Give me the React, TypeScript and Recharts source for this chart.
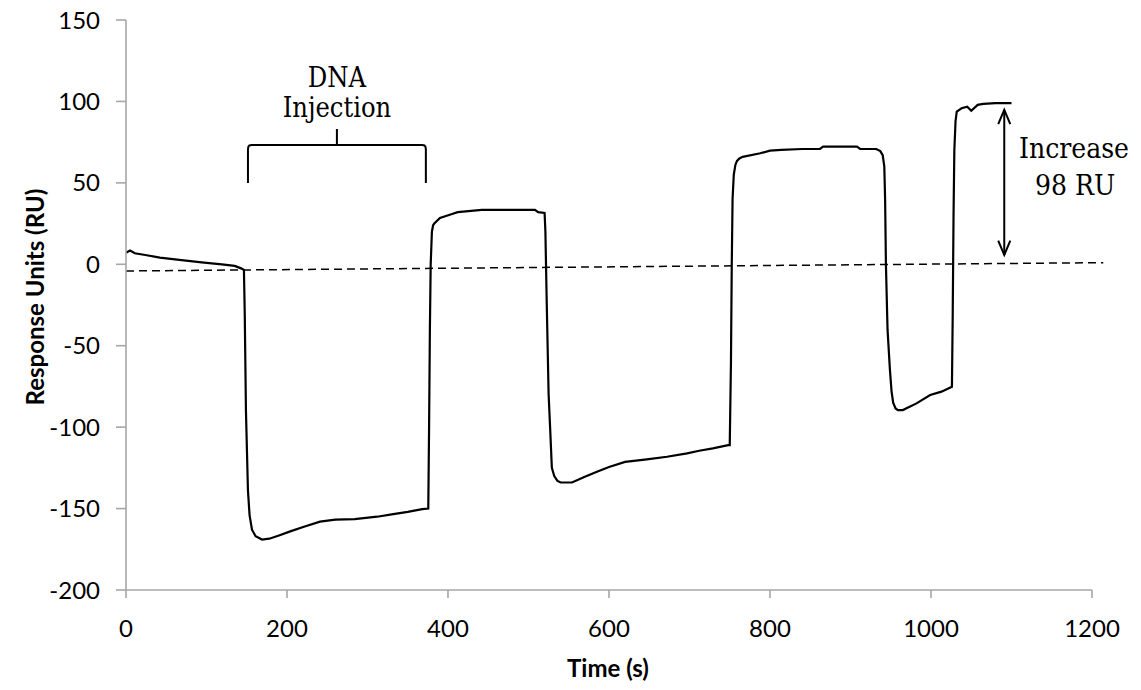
import React from 'react';
import { LineChart, Line, XAxis, YAxis, ReferenceLine } from 'recharts';

const timeS = [0, 5, 11, 24, 42, 69, 94, 119, 135, 143, 146.5, 147.5, 149, 151.5, 153.5, 156.5, 161, 169, 178, 190, 204, 222, 241, 260, 284, 312, 332, 350, 368, 375.5, 376.5, 377.5, 378.5, 380, 381.5, 383, 390, 406, 412, 442, 508, 512, 520, 521, 522.5, 525, 527, 529, 532, 536, 540, 554, 570, 585, 600, 620, 647, 672, 697, 712, 729, 748, 750, 751.5, 752.5, 753.5, 755, 757, 759, 762, 766, 788, 800, 814, 840, 862, 866, 908, 912, 932, 937, 940, 942, 943, 944, 946, 949, 951, 953, 956, 959, 965, 982, 999, 1013, 1026, 1027, 1028, 1029, 1030.5, 1032, 1038, 1045, 1050, 1058, 1065, 1080, 1100];
const responseRU = [7.1, 8.4, 6.8, 5.7, 4.1, 2.6, 1.2, 0.0, -1.0, -2.5, -3.5, -30, -90, -139, -154, -163, -167, -169, -168.5, -166.5, -164, -161, -158, -156.8, -156.5, -155, -153.4, -152, -150.3, -150, -100, -40, 0, 20, 24, 25, 28.5, 31, 32, 33.4, 33.4, 32, 31.5, 20, -20, -80, -102, -125, -130, -133, -134, -134, -130.5, -127.4, -124.5, -121.3, -119.8, -118.2, -116.1, -114.5, -113, -111, -111, -60, 0, 40, 55, 61, 63.5, 65, 66, 68.2, 69.8, 70.2, 70.8, 70.8, 72.2, 72.2, 70.8, 70.8, 69.5, 67, 60, 40, 0, -40, -65, -78, -85, -88.5, -89.5, -89.5, -85.4, -80.3, -78.2, -75.2, -30, 30, 70, 88, 93.7, 95.8, 96.8, 94.3, 97.9, 98.5, 98.9, 98.9];

const baselineT = [0, 1214];
const baselineRU = [-4.1, 1.0];

const bracketT = [151.5, 151.5, 152, 153.3, 156, 262, 262, 262, 368, 370.7, 372, 372.5, 372.5];
const bracketRU = [49.9, 70.5, 72.2, 73.0, 73.3, 73.3, 83, 73.3, 73.3, 73.0, 72.2, 70.5, 49.9];

const arrowShaftT = [1091, 1091];
const arrowShaftRU = [94.8, 5.7];
const arrowTopT = [1083.5, 1091, 1098.5];
const arrowTopRU = [86.0, 94.8, 86.0];
const arrowBotT = [1083.5, 1091, 1098.5];
const arrowBotRU = [14.5, 5.7, 14.5];

const xTicks = [0, 200, 400, 600, 800, 1000, 1200];
const yTicks = [-200, -150, -100, -50, 0, 50, 100, 150];

const zip = (ts: number[], vs: number[]) => ts.map((t, i) => ({ t, v: vs[i] }));

const mainData = zip(timeS, responseRU);
const bracketData = zip(bracketT, bracketRU);
const shaftData = zip(arrowShaftT, arrowShaftRU);
const topHead = zip(arrowTopT, arrowTopRU);
const botHead = zip(arrowBotT, arrowBotRU);

const axisColor = '#a6a6a6';
const sans = 'Lato, "Open Sans", sans-serif';
const tickStyle = { fill: '#000', fontFamily: sans, fontSize: 24 };
const serif = '"DejaVu Serif Condensed", "DejaVu Serif", serif';

export default function App() {
  return (
    <div style={{ position: 'absolute', left: 0, top: 0, width: 1141, height: 690, background: '#fff' }}>
      <LineChart width={1141} height={690} margin={{ top: 20, right: 49, bottom: 60, left: 66 }}>
        <XAxis
          dataKey="t"
          type="number"
          domain={[0, 1200]}
          ticks={xTicks}
          allowDataOverflow
          height={40}
          tickSize={8}
          tickMargin={22}
          stroke={axisColor}
          strokeWidth={1.6}
          tick={tickStyle}
          tickLine={{ stroke: axisColor, strokeWidth: 1.6 }}
          interval={0}
        />
        <YAxis
          dataKey="v"
          type="number"
          domain={[-200, 150]}
          ticks={yTicks}
          allowDataOverflow
          width={60}
          tickSize={10}
          tickMargin={16}
          stroke={axisColor}
          strokeWidth={1.6}
          tick={tickStyle}
          tickLine={{ stroke: axisColor, strokeWidth: 1.6 }}
          interval={0}
        />
        <ReferenceLine
          segment={[{ x: baselineT[0], y: baselineRU[0] }, { x: baselineT[1], y: baselineRU[1] }]}
          stroke="#000"
          strokeWidth={1.5}
          strokeDasharray="8 5"
          ifOverflow="visible"
        />
        <Line data={mainData} dataKey="v" type="linear" stroke="#000" strokeWidth={2.2} dot={false} isAnimationActive={false} />
        <Line data={bracketData} dataKey="v" type="linear" stroke="#000" strokeWidth={2} dot={false} isAnimationActive={false} />
        <Line data={shaftData} dataKey="v" type="linear" stroke="#000" strokeWidth={2} dot={false} isAnimationActive={false} />
        <Line data={topHead} dataKey="v" type="linear" stroke="#000" strokeWidth={2} dot={false} isAnimationActive={false} />
        <Line data={botHead} dataKey="v" type="linear" stroke="#000" strokeWidth={2} dot={false} isAnimationActive={false} />
      </LineChart>
      <svg width={1141} height={690} style={{ position: 'absolute', left: 0, top: 0, pointerEvents: 'none' }}>
        <text x={337} y={87} textAnchor="middle" fontFamily={serif} fontSize={27} fill="#000">DNA</text>
        <text x={337} y={117} textAnchor="middle" fontFamily={serif} fontSize={27} fill="#000">Injection</text>
        <text x={1074} y={158} textAnchor="middle" fontFamily={serif} fontSize={28} fill="#000">Increase</text>
        <text x={1075} y={195} textAnchor="middle" fontFamily={serif} fontSize={28} fill="#000">98 RU</text>
        <text
          x={34}
          y={297}
          transform="rotate(-90 34 297)"
          textAnchor="middle"
          dominantBaseline="central"
          fontFamily={sans}
          fontWeight="bold"
          fontSize={24}
          fill="#000"
        >
          Response Units (RU)
        </text>
        <text
          x={608}
          y={667}
          textAnchor="middle"
          dominantBaseline="central"
          fontFamily={sans}
          fontWeight="bold"
          fontSize={24}
          fill="#000"
        >
          Time (s)
        </text>
      </svg>
    </div>
  );
}
